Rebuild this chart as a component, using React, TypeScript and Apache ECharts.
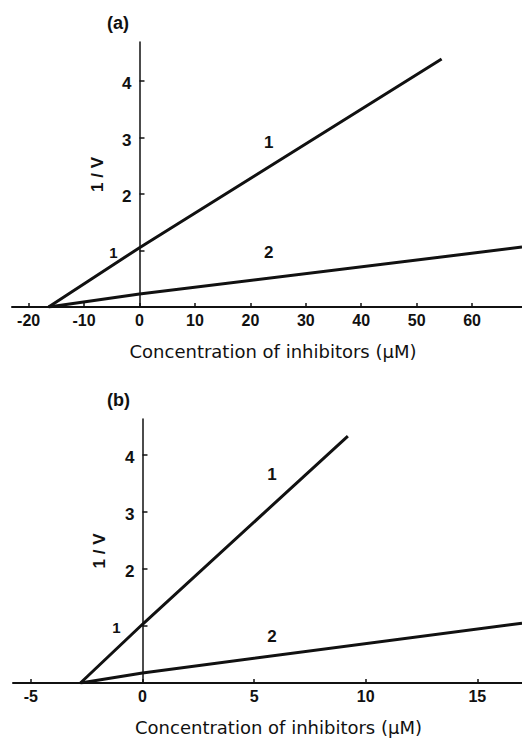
import React, { useEffect, useRef } from "react";
import * as echarts from "echarts";

// Panel (a)
const a_line1: number[][] = [[-16.4, 0], [0, 1.05], [54.5, 4.39]];
const a_line2: number[][] = [[-16.4, 0], [0, 0.23], [69, 1.06]];
const a_xTicks: number[] = [-20, -10, 0, 10, 20, 30, 40, 50, 60];
const a_yTicks: number[] = [1, 2, 3, 4];
const a_labels = [
  { text: "1", x: 23.3, y: 2.92 },
  { text: "2", x: 23.3, y: 0.97 },
];

// Panel (b)
const b_line1: number[][] = [[-2.78, 0], [0, 1.03], [9.2, 4.33]];
const b_line2: number[][] = [[-2.78, 0], [0, 0.175], [17, 1.05]];
const b_xTicks: number[] = [-5, 0, 5, 10, 15];
const b_yTicks: number[] = [1, 2, 3, 4];
const b_labels = [
  { text: "1", x: 5.8, y: 3.65 },
  { text: "2", x: 5.8, y: 0.81 },
];

const xTitle = "Concentration of inhibitors (µM)";
const yTitle = "1 / V";

const W = 522;
const H = 742;
const gridA = { left: 12, right: 0, top: 42, bottom: 435 };
const gridB = { left: 13, right: 0, top: 419, bottom: 59 };
const xRangeA = [-23, 69];
const xRangeB = [-5.8, 17.0];

const INK = "#111";
const TICK_FONT = {
  fontFamily: "Liberation Sans",
  fontSize: 16,
  fontWeight: "bold" as const,
  color: INK,
};

// shift the y axis (line, ticks, labels, name) to x = 0 of the x scale
function zeroOffset(grid: { left: number; right: number }, range: number[]) {
  const w = W - grid.left - grid.right;
  return -((0 - range[0]) / (range[1] - range[0])) * w;
}

function xAxisOf(gridIndex: number, range: number[], ticks: number[], namePadLeft: number) {
  return {
    type: "value",
    gridIndex,
    min: range[0],
    max: range[1],
    axisLine: { show: true, onZero: false, lineStyle: { color: INK, width: 2 } },
    axisTick: { show: true, inside: true, length: 4, customValues: ticks, lineStyle: { color: INK, width: 1.5 } },
    axisLabel: { show: true, customValues: ticks, margin: 5, ...TICK_FONT },
    splitLine: { show: false },
    name: xTitle,
    nameLocation: "middle",
    nameGap: 35,
    nameMoveOverlap: false,
    nameTextStyle: {
      fontFamily: "DejaVu Sans",
      fontSize: 18,
      color: INK,
      padding: [0, 0, 0, namePadLeft],
    },
  };
}

function yAxisOf(gridIndex: number, max: number, ticks: number[], offset: number, nameGap: number) {
  return {
    type: "value",
    gridIndex,
    min: 0,
    max,
    offset,
    axisLine: { show: true, onZero: false, lineStyle: { color: INK, width: 1.5 } },
    axisTick: { show: true, inside: true, length: 5, customValues: ticks, lineStyle: { color: INK, width: 1.5 } },
    axisLabel: {
      show: true,
      customValues: ticks,
      margin: 8,
      formatter: (v: number) => (v === 1 ? "{o|1}" : "{n|" + v + "}"),
      rich: {
        n: { ...TICK_FONT, fontSize: 17, padding: [6, 0, 0, 0] },
        o: { ...TICK_FONT, fontSize: 15, padding: [4, 14, 0, 0] },
      },
    },
    splitLine: { show: false },
    name: yTitle,
    nameLocation: "middle",
    nameRotate: 90,
    nameGap,
    nameMoveOverlap: false,
    nameTextStyle: {
      fontFamily: "Liberation Sans",
      fontSize: 17,
      fontWeight: "bold",
      color: INK,
    },
  };
}

function lineSeries(idx: number, data: number[][]) {
  return {
    type: "line",
    xAxisIndex: idx,
    yAxisIndex: idx,
    data,
    showSymbol: false,
    symbol: "none",
    silent: true,
    lineStyle: { color: INK, width: 3 },
  };
}

function labelSeries(idx: number, items: { text: string; x: number; y: number }[]) {
  return {
    type: "scatter",
    xAxisIndex: idx,
    yAxisIndex: idx,
    symbolSize: 1,
    silent: true,
    itemStyle: { color: "rgba(0,0,0,0)", opacity: 1 },
    data: items.map((d) => ({ value: [d.x, d.y], name: d.text })),
    label: {
      show: true,
      position: "inside",
      formatter: (p: any) => p.name,
      ...TICK_FONT,
      fontSize: 17,
      color: INK,
      opacity: 1,
      textBorderWidth: 0,
    },
  };
}

export default function App() {
  const ref = useRef<HTMLDivElement>(null);
  useEffect(() => {
    if (!ref.current) return;
    const chart = echarts.init(ref.current, undefined, { renderer: "svg" });
    chart.setOption({
      animation: false,
      backgroundColor: "#fff",
      title: [
        { text: "(a)", left: 102, top: 9, textStyle: { ...TICK_FONT, fontSize: 18 } },
        { text: "(b)", left: 102, top: 386, textStyle: { ...TICK_FONT, fontSize: 18 } },
      ],
      grid: [
        { ...gridA, outerBoundsMode: "none", containLabel: false },
        { ...gridB, outerBoundsMode: "none", containLabel: false },
      ],
      xAxis: [
        xAxisOf(0, xRangeA, a_xTicks, 12),
        xAxisOf(1, xRangeB, b_xTicks, 22),
      ],
      yAxis: [
        yAxisOf(0, 4.69, a_yTicks, zeroOffset(gridA, xRangeA), 34),
        yAxisOf(1, 4.63, b_yTicks, zeroOffset(gridB, xRangeB), 34),
      ],
      series: [
        lineSeries(0, a_line1),
        lineSeries(0, a_line2),
        labelSeries(0, a_labels),
        lineSeries(1, b_line1),
        lineSeries(1, b_line2),
        labelSeries(1, b_labels),
      ],
    });
    return () => chart.dispose();
  }, []);
  return (
    <div
      ref={ref}
      style={{ position: "absolute", left: 0, top: 0, width: W, height: H, background: "#fff" }}
    />
  );
}
